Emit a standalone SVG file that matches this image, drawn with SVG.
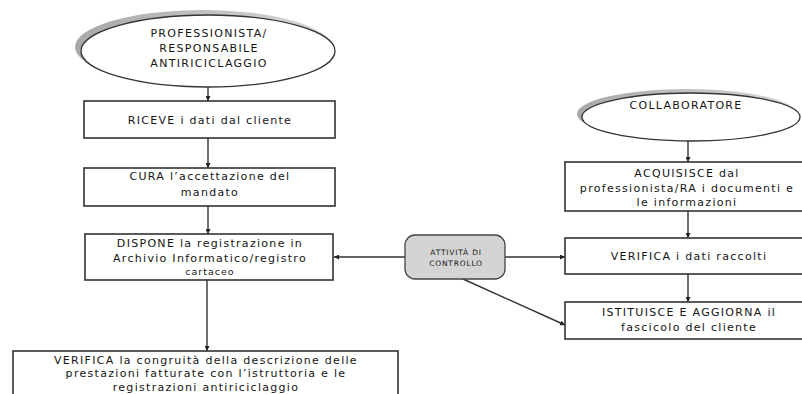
<svg xmlns="http://www.w3.org/2000/svg" width="802" height="394" viewBox="0 0 802 394">
<defs>
<marker id="ah" viewBox="0 0 10 10" refX="10" refY="5" markerWidth="5" markerHeight="5" orient="auto-start-reverse" markerUnits="userSpaceOnUse">
<path d="M0,0 L10,5 L0,10 z" fill="#222"/>
</marker>
<linearGradient id="sh" x1="0" y1="0" x2="1" y2="0">
<stop offset="0" stop-color="#a8a8a8"/>
<stop offset="1" stop-color="#d8d8d8"/>
</linearGradient>
</defs>
<style>
.box{fill:#fff;stroke:#333;stroke-width:1.6}
.ell{fill:#fff;stroke:#333;stroke-width:1.3}
.shadow{fill:url(#sh)}
.ctrl{fill:#d4d4d4;stroke:#444;stroke-width:1.3}
.t{font-family:"DejaVu Sans","Open Sans",sans-serif;font-size:11px;letter-spacing:1.3px;fill:#151515;text-anchor:middle}
.ts{font-family:"DejaVu Sans","Open Sans",sans-serif;font-size:7.5px;letter-spacing:0.8px;fill:#151515;text-anchor:middle}
.c{stroke:#333;stroke-width:1.4;fill:none}
</style>
<rect width="802" height="394" fill="#fff"/>

<g id="connectors">
<line class="c" x1="208" y1="87" x2="208" y2="101" marker-end="url(#ah)"/>
<line class="c" x1="208" y1="138" x2="208" y2="168" marker-end="url(#ah)"/>
<line class="c" x1="208" y1="206" x2="208" y2="234" marker-end="url(#ah)"/>
<line class="c" x1="207" y1="280" x2="207" y2="351" marker-end="url(#ah)"/>
<line class="c" x1="688" y1="141" x2="688" y2="162" marker-end="url(#ah)"/>
<line class="c" x1="688" y1="211" x2="688" y2="238" marker-end="url(#ah)"/>
<line class="c" x1="688" y1="274" x2="688" y2="302" marker-end="url(#ah)"/>
<line class="c" x1="405" y1="257" x2="334" y2="257" marker-end="url(#ah)"/>
<line class="c" x1="505" y1="257" x2="565" y2="257" marker-end="url(#ah)"/>
<line class="c" x1="463" y1="279" x2="565" y2="325" marker-end="url(#ah)"/>
</g>

<g id="professionista">
<ellipse class="shadow" cx="203" cy="47" rx="128" ry="37"/>
<ellipse class="ell" cx="208" cy="51" rx="127" ry="36"/>
<text class="t" x="209" y="37">PROFESSIONISTA/</text>
<text class="t" x="209" y="52">RESPONSABILE</text>
<text class="t" x="209" y="67">ANTIRICICLAGGIO</text>
</g>

<g id="riceve">
<rect class="box" x="84" y="101" width="251" height="37"/>
<text class="t" x="210" y="124">RICEVE i dati dal cliente</text>
</g>

<g id="cura">
<rect class="box" x="84" y="168" width="251" height="38"/>
<text class="t" x="210" y="180">CURA l’accettazione del</text>
<text class="t" x="210" y="196">mandato</text>
</g>

<g id="dispone">
<rect class="box" x="85" y="234" width="248" height="46"/>
<text class="t" x="210" y="247">DISPONE la registrazione in</text>
<text class="t" x="210" y="262">Archivio Informatico/registro</text>
<text class="t" x="210" y="275" style="font-size:9.5px;letter-spacing:1px">cartaceo</text>
</g>

<g id="verifica-congruita">
<rect class="box" x="13" y="351" width="385" height="60"/>
<text class="t" x="206" y="364">VERIFICA la congruità della descrizione delle</text>
<text class="t" x="206" y="377">prestazioni fatturate con l’istruttoria e le</text>
<text class="t" x="206" y="391">registrazioni antiriciclaggio</text>
</g>

<g id="collaboratore">
<ellipse class="shadow" cx="687" cy="114" rx="110" ry="25"/>
<ellipse class="ell" cx="691" cy="117" rx="109" ry="24"/>
<text class="t" x="686" y="109">COLLABORATORE</text>
</g>

<g id="acquisisce">
<rect class="box" x="565" y="162" width="246" height="49"/>
<text class="t" x="687" y="177">ACQUISISCE dal</text>
<text class="t" x="687" y="192">professionista/RA i documenti e</text>
<text class="t" x="687" y="206">le informazioni</text>
</g>

<g id="verifica-dati">
<rect class="box" x="565" y="238" width="246" height="36"/>
<text class="t" x="689" y="260">VERIFICA i dati raccolti</text>
</g>

<g id="istituisce">
<rect class="box" x="565" y="302" width="246" height="37"/>
<text class="t" x="689" y="316">ISTITUISCE E AGGIORNA il</text>
<text class="t" x="689" y="331">fascicolo del cliente</text>
</g>

<g id="attivita">
<rect class="ctrl" x="405" y="235" width="100" height="44" rx="10" ry="10"/>
<text class="ts" x="456" y="255">ATTIVITÀ DI</text>
<text class="ts" x="456" y="266">CONTROLLO</text>
</g>
</svg>
